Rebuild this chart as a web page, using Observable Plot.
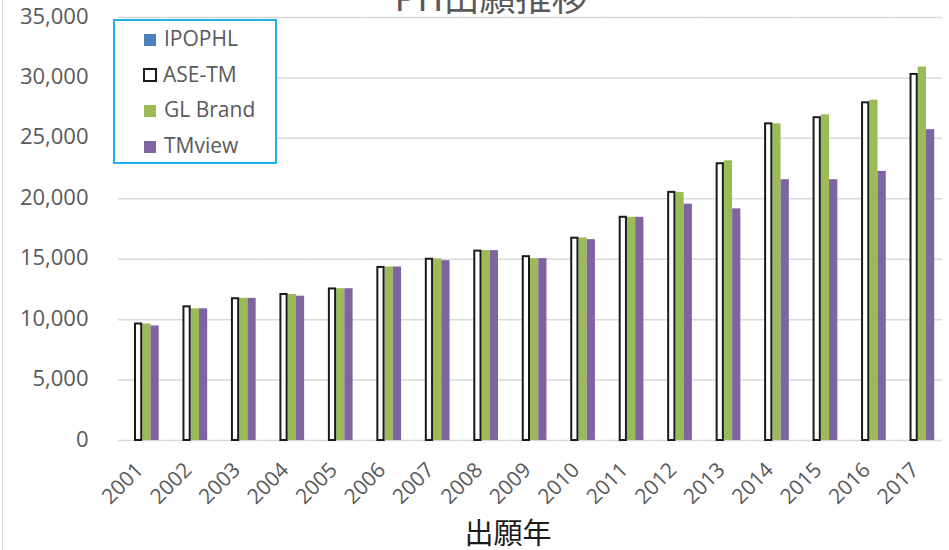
<!DOCTYPE html>
<html>
<head>
<meta charset="utf-8">
<script src="https://cdn.jsdelivr.net/npm/d3@7"></script>
<script src="https://cdn.jsdelivr.net/npm/@observablehq/plot@0.6"></script>
<style>
  html, body { margin: 0; padding: 0; background: #fff; }
  #wrap { position: relative; width: 949px; height: 550px; overflow: hidden; background: #fff; }
  #border { position: absolute; left: 2px; top: 0; width: 0; height: 550px; border-left: 1px solid #d9d9d9; }
  #title { position: absolute; left: 0; width: 982px; top: -23px; text-align: center; font-family: "Noto Sans CJK JP"; font-size: 36px; line-height: 1; color: #595959; white-space: nowrap; }
  #xlabel { position: absolute; left: 0; width: 1016px; top: 517px; text-align: center; font-family: "Noto Sans CJK JP"; font-size: 29px; line-height: 1; color: #1a1a1a; white-space: nowrap; }
  #legend { position: absolute; left: 113px; top: 19px; width: 160px; height: 141px; border: 2px solid #22b0e8; background: #fff; font-family: "Open Sans"; font-size: 21px; color: #595959; }
  .item { position: absolute; left: 29px; height: 24px; line-height: 24px; white-space: nowrap; }
  .sw { display: inline-block; width: 12px; height: 12px; margin-right: 8px; vertical-align: -0px; box-sizing: border-box; }
  #chart { position: absolute; left: 0; top: 0; }
</style>
</head>
<body>
<div id="wrap">
  <div id="chart"></div>
  <div id="border"></div>
  <div id="title"></div>
  <div id="xlabel"></div>
  <div id="legend"></div>
</div>
<script>
const titleText = "PH出願推移";
const xLabel = "出願年";
const years = ["2001","2002","2003","2004","2005","2006","2007","2008","2009","2010","2011","2012","2013","2014","2015","2016","2017"];
const series = ["IPOPHL", "ASE-TM", "GL Brand", "TMview"];
const seriesColors = ["#4F81BD", "#FFFFFF", "#9BBB59", "#8064A2"];
const ipophl  = [null, null, null, null, null, null, null, null, null, null, null, null, null, null, null, null, null];
const aseTm   = [9640, 11060, 11730, 12080, 12540, 14320, 15000, 15670, 15210, 16740, 18470, 20530, 22900, 26200, 26710, 27940, 30290];
const glBrand = [9640, 10900, 11760, 12080, 12560, 14360, 15020, 15710, 15050, 16760, 18470, 20530, 23140, 26200, 26950, 28160, 30900];
const tmview  = [9480, 10900, 11760, 11940, 12560, 14360, 14880, 15710, 15050, 16620, 18470, 19560, 19170, 21580, 21580, 22270, 25720];
const yTicks = [0, 5000, 10000, 15000, 20000, 25000, 30000, 35000];

const valuesBySeries = {"IPOPHL": ipophl, "ASE-TM": aseTm, "GL Brand": glBrand, "TMview": tmview};
const rows = [];
years.forEach((yr, i) => series.forEach(s => rows.push({year: yr, series: s, value: valuesBySeries[s][i]})));

document.getElementById("title").textContent = titleText;
document.getElementById("xlabel").textContent = xLabel;

const legend = document.getElementById("legend");
series.forEach((s, i) => {
  const it = document.createElement("div");
  it.className = "item";
  it.style.top = (5 + i * 35.5) + "px";
  const sw = document.createElement("span");
  sw.className = "sw";
  sw.style.background = seriesColors[i];
  if (s === "ASE-TM") { sw.style.border = "2px solid #1a1a1a"; sw.style.width = "14px"; sw.style.height = "14px"; sw.style.marginLeft = "-1px"; sw.style.marginRight = "6px"; }
  it.appendChild(sw);
  it.appendChild(document.createTextNode(s));
  legend.appendChild(it);
});

const padIn = 0.32, padOut = 0.16;
const marginLeft = 118, marginRight = 7, W = 949;
const step = (W - marginLeft - marginRight) / (years.length - padIn + 2 * padOut);
const outer = step * padOut;

const chart = Plot.plot({
  width: W,
  height: 550,
  marginLeft,
  marginRight,
  marginTop: 17,
  marginBottom: 110,
  style: {fontFamily: "Open Sans", fontSize: "21px", color: "#595959", background: "transparent"},
  fx: {domain: years, paddingInner: padIn, paddingOuter: padOut, round: false, label: null},
  x: {domain: series, padding: 0, round: false, axis: null},
  y: {domain: [0, 35000], axis: null},
  color: {domain: series, range: seriesColors},
  marks: [
    Plot.ruleY(yTicks, {y: d => d, stroke: "#d9d9d9", strokeWidth: 1.5, insetLeft: -outer, insetRight: -outer}),
    Plot.axisY(yTicks, {tickSize: 0, tickPadding: 30 + outer, tickFormat: d3.format(","), label: null, fontSize: 22, dy: -1}),
    Plot.axisFx({anchor: "bottom", tickRotate: -45, tickSize: 0, tickPadding: 26, label: null, fontSize: 21, dx: -3}),
    Plot.barY(rows.filter(d => d.series !== "ASE-TM"), {fx: "year", x: "series", y: "value", fill: "series"}),
    Plot.barY(rows.filter(d => d.series === "ASE-TM"), {fx: "year", x: "series", y: "value", fill: "#ffffff", stroke: "#1a1a1a", strokeWidth: 2, insetLeft: 1, insetRight: 1})
  ]
});
document.getElementById("chart").appendChild(chart);
</script>
</body>
</html>
